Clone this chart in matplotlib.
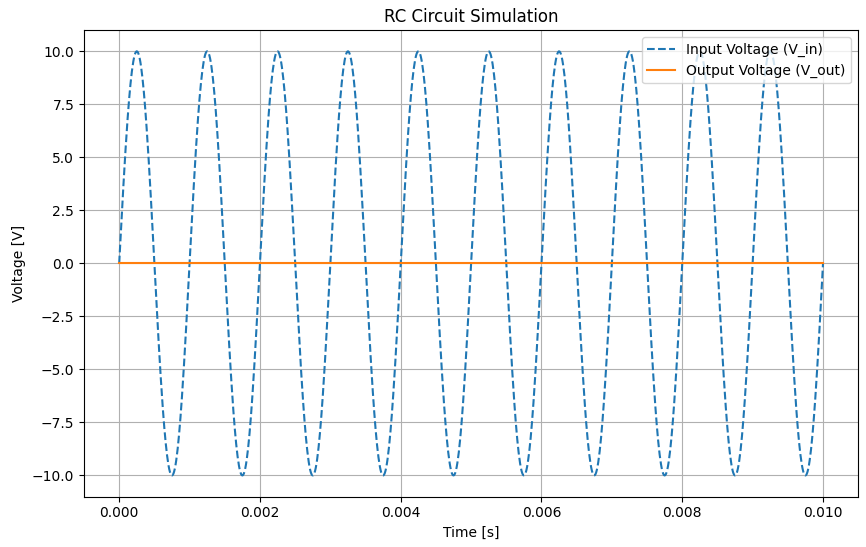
import numpy as np
import matplotlib
matplotlib.use('Agg')
import matplotlib.pyplot as plt

# values
t_end = 0.01          # s
frequency = 1000      # Hz, 10 cycles over 10 ms
amplitude = 10.0      # V
n_points = 1000
v_out_level = 0.0     # output stays flat at 0 V

t = np.linspace(0, t_end, n_points)
v_in = amplitude * np.sin(2 * np.pi * frequency * t)
v_out = np.full_like(t, v_out_level)

fig = plt.figure(figsize=(8.66, 5.47), dpi=100)
ax = fig.add_axes([0.097, 0.092, 0.894, 0.853])
ax.plot(t, v_in, label='Input Voltage (V_in)', linestyle='--')
ax.plot(t, v_out, label='Output Voltage (V_out)')
ax.set_title('RC Circuit Simulation')
ax.set_xlabel('Time [s]')
ax.set_ylabel('Voltage [V]')
ax.legend(loc='upper right')
ax.grid(True)
fig.savefig('out.png')
